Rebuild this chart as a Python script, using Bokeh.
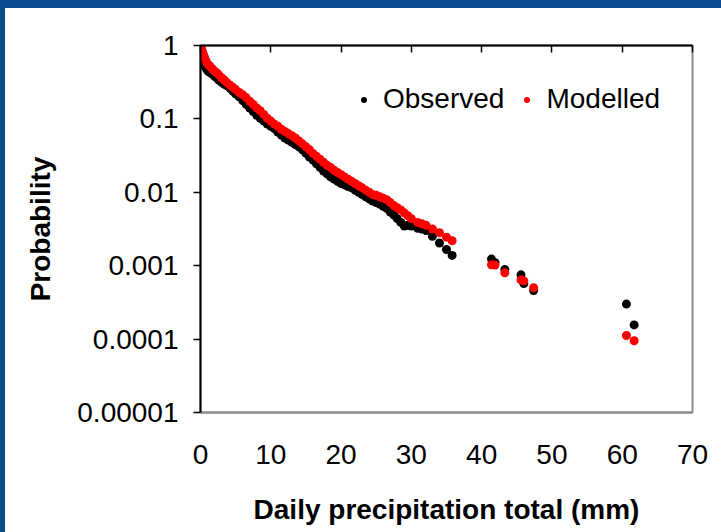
from bokeh.plotting import figure
from bokeh.models import (Range1d, LinearAxis, FixedTicker, CustomJSTickFormatter,
                          Legend, LegendItem, Div, ColumnDataSource)
from bokeh.layouts import row, column
from bokeh.embed import file_html
from bokeh.resources import INLINE

# ---------------- data ----------------
precip_mm = [0, 0.1, 0.2, 0.3, 0.4, 0.5, 0.6, 0.8, 1.0, 1.2, 1.4, 1.7, 2.0, 2.3, 2.6,
             3.0, 3.4, 3.8, 4.2, 4.6, 5.0, 5.5, 6.0, 6.5, 7.0, 7.5, 8.0, 8.5, 9.0, 9.5,
             10.0, 10.5, 11.0, 11.5, 12.0, 12.5, 13.0, 13.5, 14.0, 14.5, 15.0, 15.5,
             16.0, 16.5, 17.0, 17.5, 18.0, 18.5, 19.0, 19.5, 20.0, 20.5, 21.0, 21.5,
             22.0, 22.5, 23.0, 23.5, 24.0, 24.5, 25.0, 25.5, 26.0, 26.5, 27.0, 27.5,
             28.0, 28.5, 29.0, 29.5, 30.0, 30.9, 31.5, 32.1, 33.0, 34.0, 35.0, 35.8,
             41.4, 41.9, 43.3, 45.6, 46.0, 47.4, 60.6, 61.7]

observed_prob = [0.891, 0.794, 0.708, 0.631, 0.589, 0.550, 0.525, 0.490, 0.457, 0.437,
                 0.427, 0.407, 0.380, 0.363, 0.339, 0.316, 0.295, 0.282, 0.263, 0.240,
                 0.219, 0.200, 0.178, 0.158, 0.141, 0.126, 0.112, 0.102, 0.0933, 0.0851,
                 0.0794, 0.0741, 0.0661, 0.0603, 0.0550, 0.0513, 0.0479, 0.0447, 0.0417,
                 0.0380, 0.0339, 0.0302, 0.0275, 0.0245, 0.0219, 0.0195, 0.0178, 0.0162,
                 0.0151, 0.0141, 0.0132, 0.0126, 0.0120, 0.0115, 0.0107, 0.0100, 0.00933,
                 0.00871, 0.00813, 0.00759, 0.00724, 0.00692, 0.00646, 0.00603, 0.00537,
                 0.00490, 0.00437, 0.00389, 0.00347, 0.00355, 0.00347, 0.00324, 0.00316,
                 0.00302, 0.00251, 0.00204, 0.00166, 0.00138,
                 0.00123, 0.00110, 0.00089, 0.00075, 0.00057, 0.00046, 0.00030, 0.000156]

modelled_prob = [1.0, 0.933, 0.871, 0.813, 0.759, 0.708, 0.676, 0.617, 0.562, 0.537,
                 0.513, 0.479, 0.447, 0.427, 0.398, 0.363, 0.339, 0.309, 0.288, 0.269,
                 0.251, 0.229, 0.214, 0.195, 0.174, 0.158, 0.141, 0.129, 0.115, 0.102,
                 0.0933, 0.0851, 0.0794, 0.0724, 0.0676, 0.0631, 0.0589, 0.0550, 0.0501,
                 0.0457, 0.0417, 0.0380, 0.0339, 0.0309, 0.0282, 0.0257, 0.0234, 0.0219,
                 0.0200, 0.0186, 0.0174, 0.0162, 0.0151, 0.0141, 0.0132, 0.0123, 0.0115,
                 0.0107, 0.0100, 0.00933, 0.00912, 0.00871, 0.00832, 0.00794, 0.00724,
                 0.00661, 0.00617, 0.00575, 0.00525, 0.00479, 0.00437, 0.00389, 0.00372,
                 0.00355, 0.00316, 0.00282, 0.00245, 0.00219,
                 0.00103, 0.00102, 0.00080, 0.00064, 0.00062, 0.00050, 0.000112, 0.000095]

x_ticks = [0, 10, 20, 30, 40, 50, 60, 70]
y_ticks = [0.00001, 0.0001, 0.001, 0.01, 0.1, 1]
y_tick_labels = ["0.00001", "0.0001", "0.001", "0.01", "0.1", "1"]

series_names = ["Observed", "Modelled"]
series_colors = ["#000000", "#ff0000"]

FONT = "Liberation Sans"
BLUE = "#0b4d8e"

src = ColumnDataSource(dict(x=precip_mm, obs=observed_prob, mod=modelled_prob))

p = figure(frame_width=492, frame_height=367,
           min_border_left=195, min_border_right=29, min_border_top=37, min_border_bottom=120,
           x_range=Range1d(0, 70), y_range=Range1d(0.00001, 1), y_axis_type="log",
           output_backend="svg", toolbar_location=None, margin=0)
p.background_fill_color = "white"
p.border_fill_color = "white"
p.xgrid.visible = False
p.ygrid.visible = False
p.outline_line_color = "#8c8c8c"
p.outline_line_width = 2

r_obs = p.scatter("x", "obs", source=src, size=9, color=series_colors[0], line_color=None)
r_mod = p.scatter("x", "mod", source=src, size=9, color=series_colors[1], line_color=None)

# bottom axis: labels only, grey line (plot border)
xb = p.below[0]
xb.ticker = FixedTicker(ticks=x_ticks)
xb.axis_line_color = "#8c8c8c"
xb.axis_line_width = 2
xb.major_tick_line_color = None
xb.minor_tick_line_color = None
xb.major_label_text_font = FONT
xb.major_label_text_font_size = "28px"
xb.major_label_text_color = "black"
xb.major_label_standoff = 26
xb.axis_label = "Daily precipitation total (mm)"
xb.axis_label_text_font = FONT
xb.axis_label_text_font_size = "28px"
xb.axis_label_text_font_style = "bold"
xb.axis_label_text_color = "black"
xb.axis_label_standoff = 27

# left log axis
yl = p.left[0]
yl.ticker = FixedTicker(ticks=y_ticks)
yl.formatter = CustomJSTickFormatter(args=dict(vals=y_ticks, labels=y_tick_labels), code="""
for (let i = 0; i < vals.length; i++) {
  if (Math.abs(Math.log10(vals[i]) - Math.log10(tick)) < 1e-6) return labels[i];
}
return "";
""")
yl.axis_line_color = "black"
yl.axis_line_width = 2
yl.major_tick_line_color = "black"
yl.major_tick_line_width = 1.5
yl.major_tick_in = 0
yl.major_tick_out = 7
yl.minor_tick_line_color = None
yl.major_label_text_font = FONT
yl.major_label_text_font_size = "28px"
yl.major_label_text_color = "black"
yl.major_label_standoff = 15
yl.axis_label = "Probability"
yl.axis_label_text_font = FONT
yl.axis_label_text_font_size = "28px"
yl.axis_label_text_font_style = "bold"
yl.axis_label_text_color = "black"
yl.axis_label_standoff = 18

# top axis: the horizontal axis crossing at 1, ticks inside, no labels
xt = LinearAxis(ticker=FixedTicker(ticks=x_ticks),
                formatter=CustomJSTickFormatter(code="return '';"))
xt.axis_line_color = "black"
xt.axis_line_width = 2
xt.major_tick_line_color = "black"
xt.major_tick_line_width = 1.5
xt.major_tick_in = 7
xt.major_tick_out = 0
xt.minor_tick_line_color = None
xt.major_label_standoff = 0
p.add_layout(xt, "above")

legend = Legend(items=[LegendItem(label=series_names[0], renderers=[r_obs]),
                       LegendItem(label=series_names[1], renderers=[r_mod])],
                orientation="horizontal", location=(156, 297),
                padding=0, margin=0, spacing=15,
                glyph_width=15, glyph_height=15, label_standoff=12,
                label_text_font=FONT, label_text_font_size="28px",
                label_text_color="black",
                background_fill_alpha=0, border_line_color=None)
p.add_layout(legend)

left_band = Div(width=5, height=524, margin=0, styles={"background-color": BLUE})
top_band = Div(width=721, height=8, margin=0, styles={"background-color": BLUE})
layout = column(top_band, row(left_band, p, spacing=0, margin=0), spacing=0, margin=0)

open("out.html", "w").write(file_html(layout, INLINE))
